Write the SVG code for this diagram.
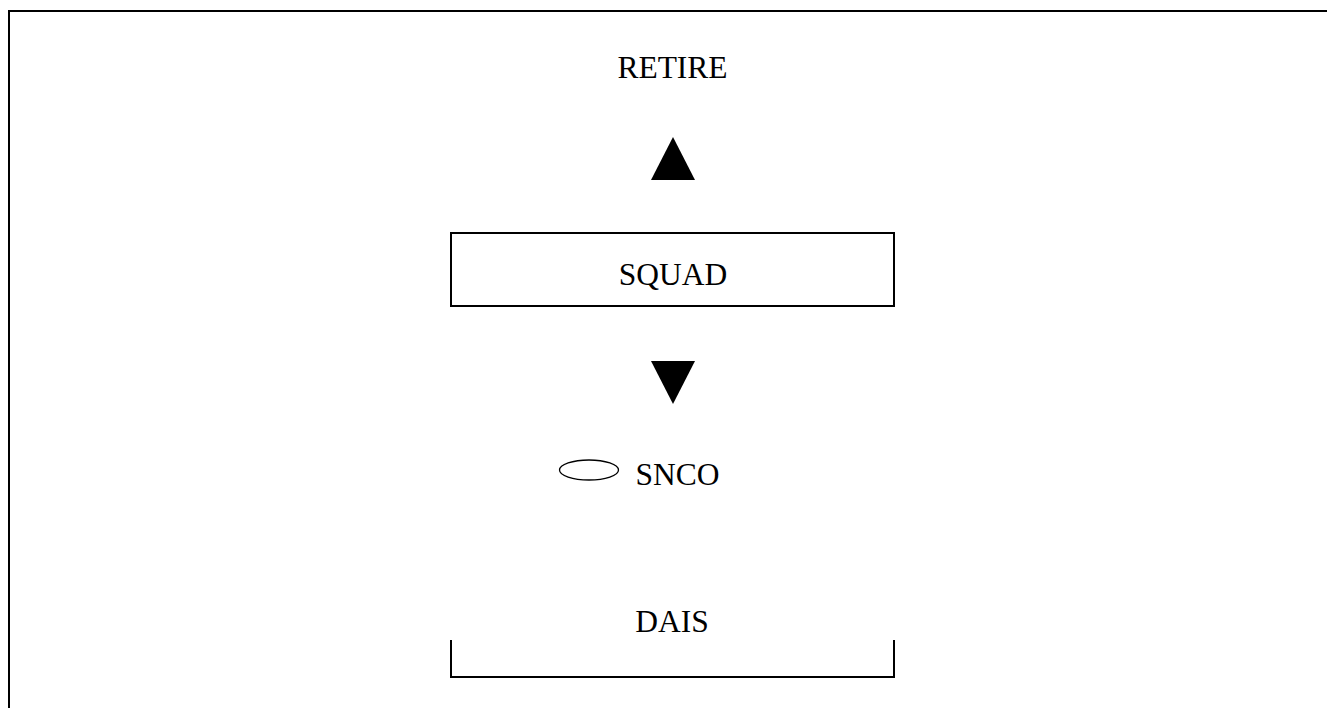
<svg xmlns="http://www.w3.org/2000/svg" width="1327" height="708" viewBox="0 0 1327 708">
  <style>
    .lbl { font-family: "Liberation Serif", "Times New Roman", serif; font-size: 31.5px; fill: #000; }
    .ln { fill: none; stroke: #000; stroke-width: 2; }
  </style>
  <rect width="1327" height="708" fill="#fff"/>
  <path class="ln" d="M9,708 V11 H1327" stroke-width="2.5"/>
  <g id="retire">
    <text class="lbl" x="672.5" y="78" text-anchor="middle">RETIRE</text>
  </g>
  <g id="connectors">
    <polygon points="673,137 651,180 695,180" fill="#000"/>
    <polygon points="651,361 695,361 673,404" fill="#000"/>
  </g>
  <g id="squad">
    <rect class="ln" x="451" y="233" width="443" height="73"/>
    <text class="lbl" x="673" y="285" text-anchor="middle">SQUAD</text>
  </g>
  <g id="snco">
    <ellipse cx="589" cy="470" rx="29.5" ry="10" fill="none" stroke="#000" stroke-width="1.3"/>
    <text class="lbl" x="635.5" y="485">SNCO</text>
  </g>
  <g id="dais">
    <text class="lbl" x="672" y="632" text-anchor="middle">DAIS</text>
    <path class="ln" d="M451,640 V677 H894 V640"/>
  </g>
</svg>
